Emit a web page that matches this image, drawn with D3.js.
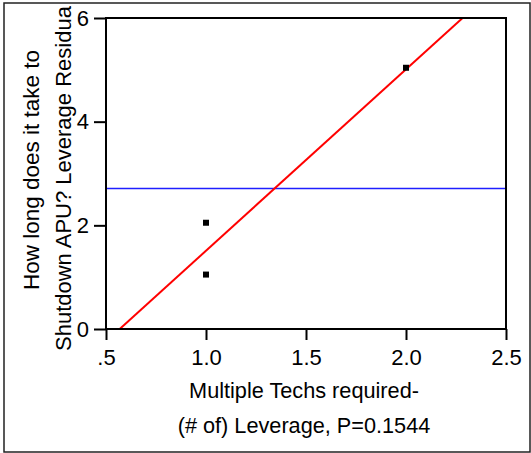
<!DOCTYPE html>
<html><head><meta charset="utf-8">
<script src="https://cdn.jsdelivr.net/npm/d3@7"></script>
<style>
html,body{margin:0;padding:0;background:#fff;}
text{font-family:"Liberation Sans",Arial,sans-serif;fill:#000;}
</style></head>
<body>
<script>
const xValues = [1, 1, 2];
const yValues = [2.05, 1.05, 5.04];
const meanY = [2.71];
const fitLine = { intercept: -1.99, slope: 3.5 };
const xTicks = [0.5, 1.0, 1.5, 2.0, 2.5];
const xTickLabels = [".5", "1.0", "1.5", "2.0", "2.5"];
const yTicks = [0, 2, 4, 6];
const yTickLabels = ["0", "2", "4", "6"];
const xTitle = ["Multiple Techs required-", "(# of) Leverage, P=0.1544"];
const yTitle = ["How long does it take to", "Shutdown APU? Leverage Residua"];

const W = 531, H = 453;
const svg = d3.select("body").append("svg").attr("width", W).attr("height", H);

// outer border
svg.append("rect").attr("x", 4).attr("y", 3).attr("width", 526).attr("height", 449)
  .attr("fill", "none").attr("stroke", "#222").attr("stroke-width", 1.5);

const L = 106, R = 506, T = 18, B = 329;
const x = d3.scaleLinear().domain([0.5, 2.5]).range([L, R]);
const y = d3.scaleLinear().domain([0, 6]).range([B, T]);

svg.append("clipPath").attr("id", "pc").append("rect")
  .attr("x", L).attr("y", T).attr("width", R - L).attr("height", B - T);

const plot = svg.append("g").attr("clip-path", "url(#pc)");

// mean line
plot.append("line").attr("x1", x(0.5)).attr("x2", x(2.5))
  .attr("y1", y(meanY[0])).attr("y2", y(meanY[0]))
  .attr("stroke", "#1f1fff").attr("stroke-width", 1.5);

// fit line
const fx = v => fitLine.intercept + fitLine.slope * v;
plot.append("line").attr("x1", x(0.5)).attr("x2", x(2.5))
  .attr("y1", y(fx(0.5))).attr("y2", y(fx(2.5)))
  .attr("stroke", "#ff0000").attr("stroke-width", 2);

// points
plot.selectAll("rect.pt").data(xValues.map((v, i) => [v, yValues[i]])).enter()
  .append("rect").attr("class", "pt")
  .attr("x", d => x(d[0]) - 3).attr("y", d => y(d[1]) - 3)
  .attr("width", 6).attr("height", 6).attr("fill", "#000");

// frame
svg.append("rect").attr("x", L).attr("y", T).attr("width", R - L).attr("height", B - T)
  .attr("fill", "none").attr("stroke", "#000").attr("stroke-width", 2);

// axes
const xAxis = d3.axisBottom(x).tickValues(xTicks)
  .tickFormat((d, i) => xTickLabels[i]).tickSize(11).tickPadding(9);
const gx = svg.append("g").attr("transform", `translate(0,${B})`).call(xAxis);
gx.attr("font-size", null).attr("font-family", null);
gx.select(".domain").remove();
gx.selectAll("line").attr("stroke", "#000").attr("stroke-width", 2);
gx.selectAll("text").style("font-size", "22px");

const yAxis = d3.axisLeft(y).tickValues(yTicks)
  .tickFormat((d, i) => yTickLabels[i]).tickSize(12).tickPadding(5);
const gy = svg.append("g").attr("transform", `translate(${L},0)`).call(yAxis);
gy.attr("font-size", null).attr("font-family", null);
gy.select(".domain").remove();
gy.selectAll("line").attr("stroke", "#000").attr("stroke-width", 2);
gy.selectAll("text").style("font-size", "22px");

// x title
svg.selectAll("text.xt").data(xTitle).enter().append("text").attr("class", "xt")
  .attr("x", 304).attr("y", (d, i) => 398 + i * 35)
  .attr("text-anchor", "middle").style("font-size", "21.7px").text(d => d);

// y title
svg.append("text").attr("transform", "translate(39,170) rotate(-90)")
  .attr("text-anchor", "middle").style("font-size", "22.5px").text(yTitle[0]);
svg.append("text").attr("transform", "translate(71,351) rotate(-90)")
  .attr("text-anchor", "start").style("font-size", "22px").text(yTitle[1]);
</script>
</body></html>
